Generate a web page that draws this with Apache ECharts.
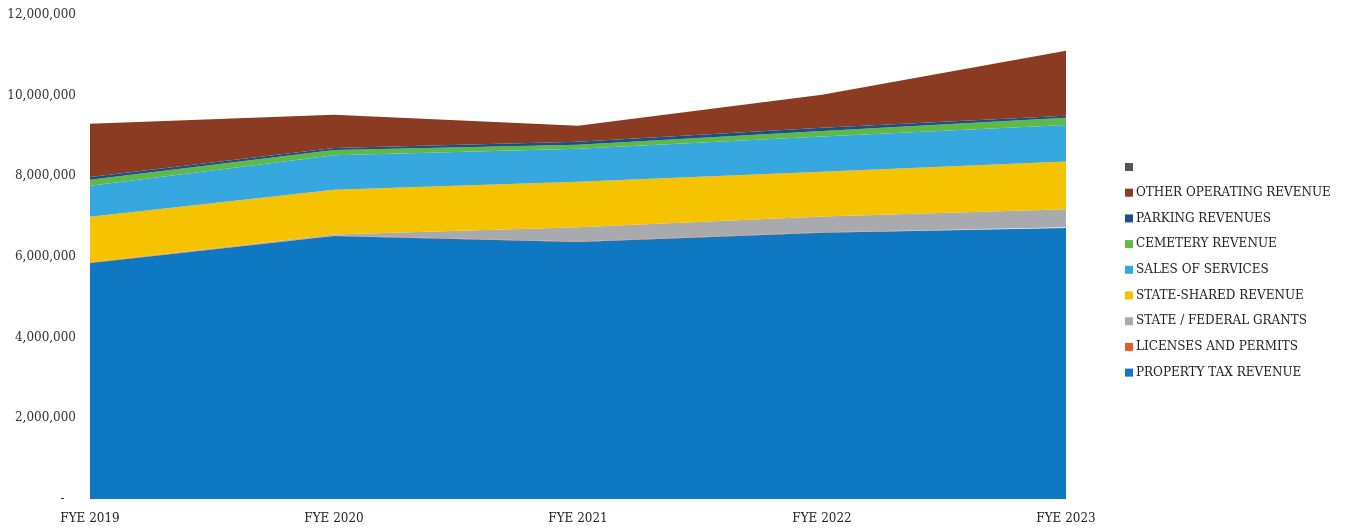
<!DOCTYPE html>
<html>
<head>
<meta charset="utf-8">
<script src="https://cdn.jsdelivr.net/npm/echarts@6/dist/echarts.min.js"></script>
<style>
  html, body { margin: 0; padding: 0; background: #fff; }
  #chart { width: 1346px; height: 529px; }
</style>
</head>
<body>
<div id="chart"></div>
<script>
'use strict';

const years = ['FYE 2019', 'FYE 2020', 'FYE 2021', 'FYE 2022', 'FYE 2023'];

// stack order, bottom to top
const propertyTax   = [5850000, 6520000, 6370000, 6600000, 6720000];
const licenses      = [15000, 15000, 15000, 15000, 15000];
const grants        = [0, 20000, 350000, 390000, 450000];
const stateShared   = [1130000, 1110000, 1130000, 1110000, 1180000];
const salesServices = [770000, 860000, 820000, 870000, 910000];
const cemetery      = [150000, 130000, 100000, 140000, 180000];
const parking       = [70000, 50000, 70000, 80000, 50000];
const otherOperating = [1320000, 820000, 400000, 820000, 1610000];
const blank         = [0, 0, 0, 0, 0];

const seriesDefs = [
  { name: 'PROPERTY TAX REVENUE', data: propertyTax, color: '#0f78c3' },
  { name: 'LICENSES AND PERMITS', data: licenses, color: '#e85a2c' },
  { name: 'STATE / FEDERAL GRANTS', data: grants, color: '#a8aaad' },
  { name: 'STATE-SHARED REVENUE', data: stateShared, color: '#f6c300' },
  { name: 'SALES OF SERVICES', data: salesServices, color: '#37a8df' },
  { name: 'CEMETERY REVENUE', data: cemetery, color: '#5fb946' },
  { name: 'PARKING REVENUES', data: parking, color: '#17508a' },
  { name: 'OTHER OPERATING REVENUE', data: otherOperating, color: '#8a3b22' },
  { name: ' ', data: blank, color: '#555555' }
];

const font = 'DejaVu Serif';

const chart = echarts.init(document.getElementById('chart'));
chart.setOption({
  animation: false,
  grid: { left: 90, right: 280, top: 15, bottom: 30 },
  legend: {
    orient: 'vertical',
    left: 1120,
    top: 155,
    icon: 'rect',
    itemWidth: 8,
    itemHeight: 8,
    itemGap: 11.7,
    selectedMode: false,
    data: seriesDefs.map(s => s.name).reverse(),
    textStyle: { fontFamily: font, fontSize: 12, color: '#222', lineHeight: 14, padding: [0, 0, 0, -2] }
  },
  xAxis: {
    type: 'category',
    boundaryGap: false,
    data: years,
    axisLine: { show: false },
    axisTick: { show: false },
    axisLabel: { fontFamily: font, fontSize: 12, color: '#222', margin: 14 }
  },
  yAxis: {
    type: 'value',
    min: 0,
    max: 12000000,
    interval: 2000000,
    splitLine: { show: false },
    axisLine: { show: false },
    axisTick: { show: false },
    axisLabel: {
      fontFamily: font,
      fontSize: 12,
      color: '#333',
      margin: 14,
      formatter: v => v === 0 ? '-   ' : v.toLocaleString('en-US')
    }
  },
  series: seriesDefs.map(s => ({
    name: s.name,
    type: 'line',
    stack: 'total',
    data: s.data,
    symbol: 'none',
    lineStyle: { width: 0 },
    itemStyle: { color: s.color },
    areaStyle: { color: s.color, opacity: 1 }
  }))
});
</script>
</body>
</html>
